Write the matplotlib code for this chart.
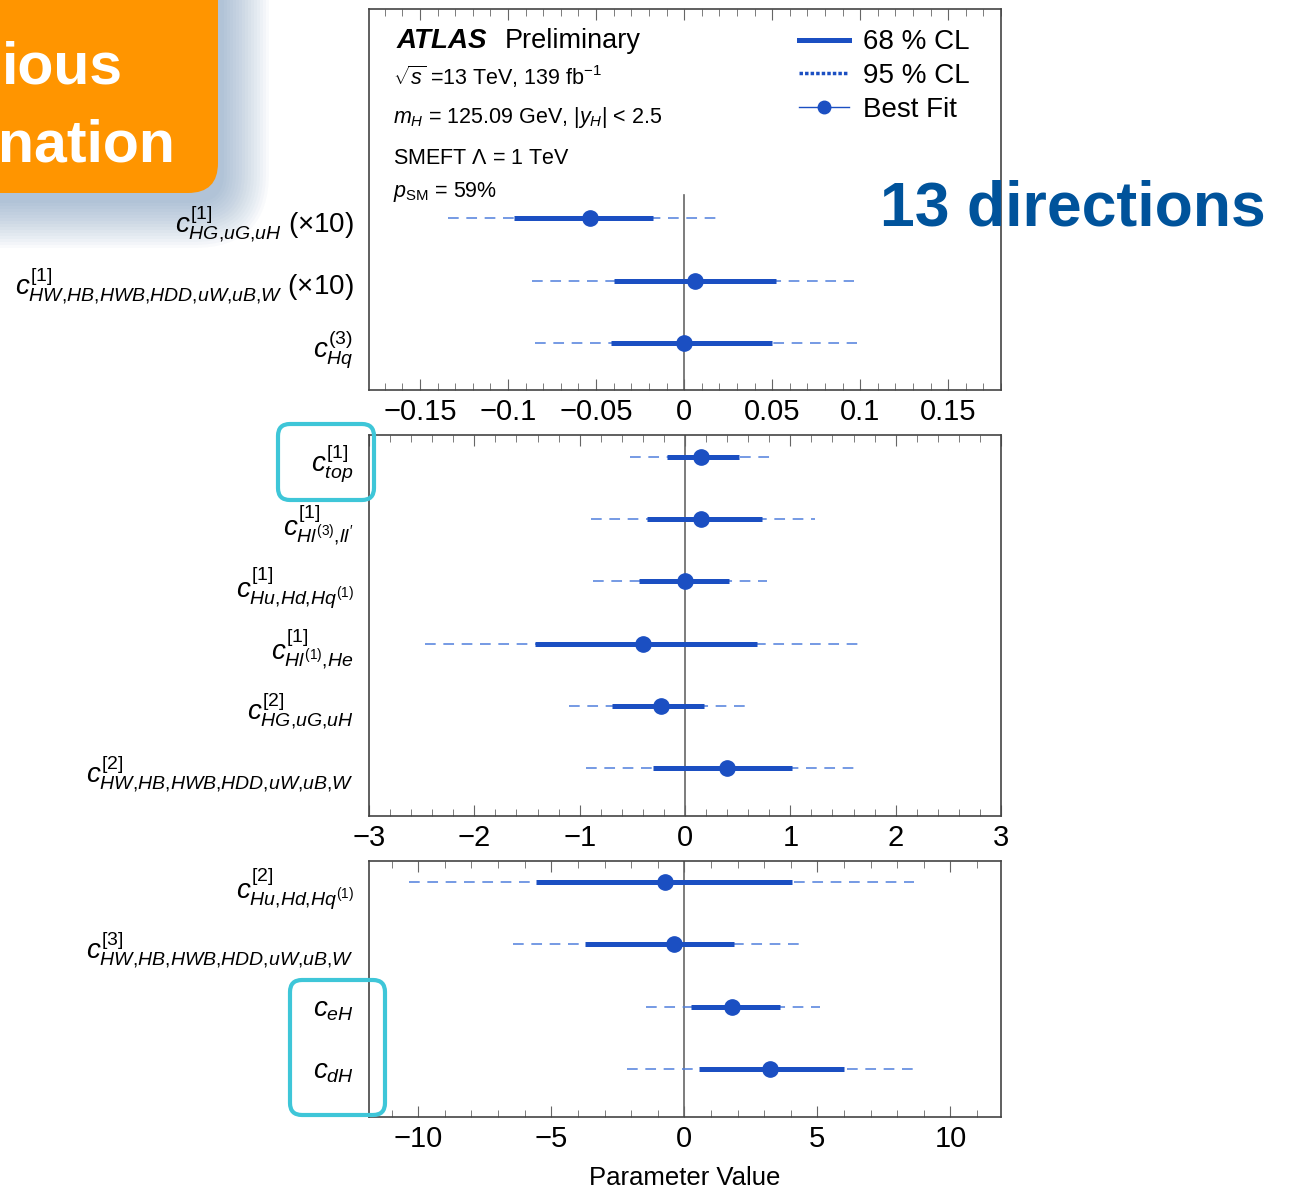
import matplotlib.pyplot as plt
from matplotlib.patches import FancyBboxPatch
from matplotlib.lines import Line2D
from matplotlib.ticker import MultipleLocator, FuncFormatter

plt.rcParams['font.family'] = ['Liberation Sans', 'DejaVu Sans']
plt.rcParams['mathtext.fontset'] = 'custom'
plt.rcParams['mathtext.rm'] = 'Liberation Sans'
plt.rcParams['mathtext.it'] = 'Liberation Sans:italic'
plt.rcParams['mathtext.bf'] = 'Liberation Sans:bold'

# ---- data (listed top to bottom in each panel) ----
top_labels = [r'$c^{[1]}_{HG{,}uG{,}uH}$ ($\times$10)',
              r'$c^{[1]}_{HW{,}HB{,}HWB{,}HDD{,}uW{,}uB{,}W}$ ($\times$10)',
              r'$c^{(3)}_{Hq}$']
top_best = [-0.0535, 0.0063, 0.0]
top_lo68 = [-0.0967, -0.0398, -0.0414]
top_hi68 = [-0.0177, 0.0521, 0.0502]
top_lo95 = [-0.134, -0.0863, -0.0847]
top_hi95 = [0.0207, 0.0963, 0.0981]

mid_labels = [r'$c^{[1]}_{top}$',
              r"$c^{[1]}_{Hl^{(3)}{,}ll'}$",
              r'$c^{[1]}_{Hu{,}Hd{,}Hq^{(1)}}$',
              r'$c^{[1]}_{Hl^{(1)}{,}He}$',
              r'$c^{[2]}_{HG{,}uG{,}uH}$',
              r'$c^{[2]}_{HW{,}HB{,}HWB{,}HDD{,}uW{,}uB{,}W}$']
mid_best = [0.15, 0.15, 0.0, -0.40, -0.225, 0.40]
mid_lo68 = [-0.17, -0.36, -0.44, -1.42, -0.69, -0.30]
mid_hi68 = [0.51, 0.73, 0.42, 0.68, 0.18, 1.02]
mid_lo95 = [-0.52, -0.89, -0.87, -2.47, -1.10, -0.94]
mid_hi95 = [0.81, 1.23, 0.78, 1.68, 0.64, 1.64]

bot_labels = [r'$c^{[2]}_{Hu{,}Hd{,}Hq^{(1)}}$',
              r'$c^{[3]}_{HW{,}HB{,}HWB{,}HDD{,}uW{,}uB{,}W}$',
              r'$c_{eH}$',
              r'$c_{dH}$']
bot_best = [-0.74, -0.39, 1.79, 3.21]
bot_lo68 = [-5.57, -3.72, 0.26, 0.56]
bot_hi68 = [4.04, 1.87, 3.61, 6.00]
bot_lo95 = [-10.36, -6.42, -1.45, -2.15]
bot_hi95 = [8.63, 4.51, 5.08, 8.67]

dark = '#1b4fc2'
light = '#4f7fdc'

W, H = 1297, 1190
fig = plt.figure(figsize=(W / 100, H / 100), dpi=100)


def px_axes(l, t, r, b):
    return fig.add_axes([l / W, 1 - b / H, (r - l) / W, (b - t) / H])


def fmt(v, pos):
    if abs(v) < 1e-9:
        return '0'
    return ('%g' % round(v, 4)).replace('-', '\u2212')


def draw_panel(ax, labels, best, lo68, hi68, lo95, hi95, xlim, ylim, major, minor):
    n = len(labels)
    y = [n - 1 - i for i in range(n)]
    ax.hlines(y, lo95, hi95, colors=light, linestyles=(0, (7, 5)), lw=1.1, zorder=2)
    ax.hlines(y, lo68, hi68, colors=dark, lw=3.6, zorder=3)
    ax.plot(best, y, 'o', color=dark, ms=11, zorder=4)
    ax.set_xlim(xlim)
    ax.set_ylim(ylim)
    ax.set_yticks(y)
    ax.set_yticklabels(labels, fontsize=20)
    ax.xaxis.set_major_locator(MultipleLocator(major))
    ax.xaxis.set_minor_locator(MultipleLocator(minor))
    ax.xaxis.set_major_formatter(FuncFormatter(fmt))
    ax.tick_params(axis='x', which='both', direction='in', top=True,
                   labelsize=21, pad=6, color='#666')
    ax.tick_params(axis='x', which='major', length=8)
    ax.tick_params(axis='x', which='minor', length=5)
    ax.tick_params(axis='y', length=0, pad=11)
    for s in ax.spines.values():
        s.set_color('#444')
        s.set_linewidth(1.2)


ax1 = px_axes(369, 9, 1001, 390)
draw_panel(ax1, top_labels, top_best, top_lo68, top_hi68, top_lo95, top_hi95,
           (-0.179, 0.18), (-0.75, 5.35), 0.05, 0.01)
ax1.axvline(0, ymax=0.512, color='#666', lw=1.2, zorder=1)

ax2 = px_axes(369, 435, 1001, 816)
draw_panel(ax2, mid_labels, mid_best, mid_lo68, mid_hi68, mid_lo95, mid_hi95,
           (-3, 3), (-0.77, 5.35), 1, 0.2)
ax2.axvline(0, color='#666', lw=1.2, zorder=1)

ax3 = px_axes(369, 861, 1001, 1117)
draw_panel(ax3, bot_labels, bot_best, bot_lo68, bot_hi68, bot_lo95, bot_hi95,
           (-11.85, 11.9), (-0.77, 3.34), 5, 1)
ax3.axvline(0, color='#666', lw=1.2, zorder=1)
ax3.set_xlabel('Parameter Value', fontsize=18.5, labelpad=9)

# ATLAS labels
ax1.text(0.043, 0.898, 'ATLAS', fontsize=20, fontweight='bold', style='italic',
         transform=ax1.transAxes)
ax1.text(0.215, 0.898, 'Preliminary', fontsize=19.5, transform=ax1.transAxes)
ax1.text(0.038, 0.80, r'$\sqrt{s}$ =13 TeV, 139 fb$^{-1}$', fontsize=15.5,
         transform=ax1.transAxes)
ax1.text(0.038, 0.70, r'$m_H$ = 125.09 GeV, $|y_H|$ < 2.5', fontsize=15.5,
         transform=ax1.transAxes)
ax1.text(0.038, 0.593, r'SMEFT $\Lambda$ = 1 TeV', fontsize=15.5,
         transform=ax1.transAxes)
ax1.text(0.038, 0.507, r'$p_\mathrm{SM}$ = 59%', fontsize=15.5,
         transform=ax1.transAxes)

handles = [Line2D([], [], color=dark, lw=3.6),
           Line2D([], [], color=dark, lw=2.5, ls=(0, (1, 0.6))),
           Line2D([], [], color=dark, lw=1, marker='o', ms=9)]
ax1.legend(handles, ['68 % CL', '95 % CL', 'Best Fit'], loc='upper right',
           bbox_to_anchor=(0.99, 1.012), frameon=False, fontsize=20,
           handlelength=1.8, labelspacing=0.28, handletextpad=0.5)

# slide overlays (pixel coordinates)
back = fig.add_axes([0, 0, 1, 1], zorder=-1)
back.set_xlim(0, W)
back.set_ylim(H, 0)
back.axis('off')
for i in range(16):
    p = 3 * i
    back.add_patch(FancyBboxPatch((-60 + 6, -60 + 10), 278, 253,
                                  boxstyle=f'round,pad={p},rounding_size={30 + p}',
                                  fc='#4a78a8', ec='none', alpha=0.03))

front = fig.add_axes([0, 0, 1, 1], zorder=10)
front.set_xlim(0, W)
front.set_ylim(H, 0)
front.axis('off')
front.add_patch(FancyBboxPatch((-60, -60), 278, 253, boxstyle='round,pad=0,rounding_size=30',
                               fc='#ff9500', ec='none'))
front.text(2, 84, 'ious', fontsize=42.5, fontweight='bold', color='white', va='baseline')
front.text(-2, 161, 'nation', fontsize=42.5, fontweight='bold', color='white', va='baseline')
front.text(880, 225, '13 directions', fontsize=45, fontweight='bold', color='#00539b',
           va='baseline')
front.add_patch(FancyBboxPatch((278, 424), 96, 76, boxstyle='round,pad=0,rounding_size=12',
                               fc='none', ec='#3ec6d8', lw=3))
front.add_patch(FancyBboxPatch((290, 980), 95, 135, boxstyle='round,pad=0,rounding_size=12',
                               fc='none', ec='#3ec6d8', lw=3))

fig.savefig('out.png', dpi=100)
